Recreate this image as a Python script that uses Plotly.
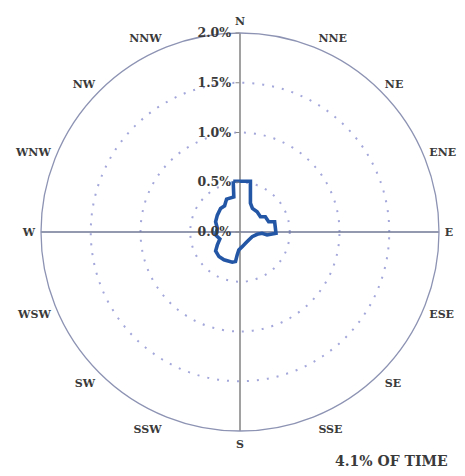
import plotly.graph_objects as go

# Rose outline (direction in degrees clockwise from north, value in % of time)
rose_theta = [352.4, 11.6, 19.9, 27.8, 40.3, 53.3, 59.0, 70.3, 73.5, 92.0, 96.3,
              93.4, 97.6, 111.0, 132.3, 154.0, 171.5, 183.8, 187.0, 188.6, 194.4,
              210.0, 220.6, 232.2, 240.3, 250.9, 263.0, 279.2, 292.8, 306.7,
              320.5, 329.5, 337.8, 350.0, 352.4]
rose_r = [0.515, 0.521, 0.308, 0.268, 0.266, 0.256, 0.297, 0.306, 0.363, 0.362, 0.274,
          0.222, 0.174, 0.131, 0.119, 0.126, 0.149, 0.180, 0.232, 0.300, 0.313,
          0.323, 0.325, 0.310, 0.262, 0.214, 0.247, 0.231, 0.266, 0.284,
          0.307, 0.305, 0.357, 0.358, 0.515]

compass_theta = [0, 22.5, 45, 67.5, 90, 112.5, 135, 157.5, 180,
                 202.5, 225, 247.5, 270, 292.5, 315, 337.5]
compass_labels = ["N", "NNE", "NE", "ENE", "E", "ESE", "SE", "SSE", "S",
                  "SSW", "SW", "WSW", "W", "WNW", "NW", "NNW"]

radial_ticks = [0.0, 0.5, 1.0, 1.5, 2.0]
radial_labels = ["0.0%", "0.5%", "1.0%", "1.5%", "2.0%"]
r_max = 2.0

axis_theta = [0, 90, 180, 270]
note_text = "4.1% OF TIME"

font_family = "DejaVu Serif"
text_color = "#3a3a3a"

fig = go.Figure()

# main axes lines N-S and E-W
for th, col in zip(axis_theta, ["#8a8a8a", "#6f7896", "#8a8a8a", "#6f7896"]):
    fig.add_trace(go.Scatterpolar(r=[0, r_max], theta=[th, th], mode="lines",
                                  line=dict(color=col, width=1.6),
                                  hoverinfo="skip", showlegend=False))

fig.add_trace(go.Scatterpolar(r=rose_r, theta=rose_theta, mode="lines",
                              line=dict(color="#2456a6", width=3.6),
                              hoverinfo="skip", showlegend=False))

W, H = 465, 476
cx, cy, R = 240, 232, 199

fig.update_layout(
    width=W, height=H,
    margin=dict(l=0, r=0, t=0, b=0),
    paper_bgcolor="white",
    showlegend=False,
    polar=dict(
        domain=dict(x=[(cx - R) / W, (cx + R) / W],
                    y=[(H - cy - R) / H, (H - cy + R) / H]),
        bgcolor="white",
        angularaxis=dict(
            rotation=90, direction="clockwise",
            tickmode="array", tickvals=compass_theta, ticktext=compass_labels,
            showgrid=False, showline=True, linecolor="#8d93b3", linewidth=1.3,
            ticks="outside", ticklen=3, tickcolor="rgba(0,0,0,0)",
            tickfont=dict(family=font_family, size=11, color=text_color, weight="bold"),
        ),
        radialaxis=dict(
            range=[0, r_max], angle=90, tickangle=90, side="counterclockwise",
            tickmode="array", tickvals=radial_ticks, ticktext=radial_labels,
            showline=False, showgrid=True, gridcolor="#a3a7da", griddash="2px,8px",
            gridwidth=2,
            ticks="outside", ticklen=4, tickcolor="#8a8a8a",
            tickfont=dict(family=font_family, size=12.5, color=text_color, weight="bold"),
        ),
    ),
    annotations=[dict(text=note_text, x=450 / W, y=(H - 461) / H, xref="paper", yref="paper",
                      xanchor="right", yanchor="middle", showarrow=False,
                      font=dict(family=font_family, size=14, color=text_color, weight="bold"))],
)

fig.write_html("out.html")
